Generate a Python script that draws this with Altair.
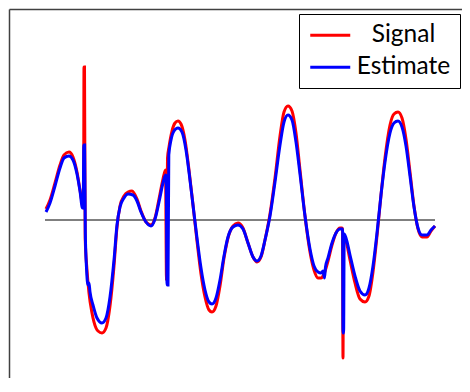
import altair as alt
import pandas as pd

# Sample index and amplitude
sig_n = [1, 5, 10, 15, 19, 24, 28, 32, 35, 38, 38.6, 39, 39.5, 40.2, 42, 44, 47, 51, 53, 57, 61, 65, 69, 72,
         75, 79, 83, 87, 92, 96, 101, 106, 110, 114, 118, 120.5, 121.5, 122.5, 124, 127, 130, 133, 136, 140,
         144, 148, 152, 156, 160, 164, 167, 171, 175, 179, 183, 188, 193, 198, 203, 208, 212, 216, 220, 225,
         230, 235, 239, 243, 247, 251, 255, 260, 265, 269, 273, 276, 279, 283, 287, 291, 295, 297, 297.5, 298,
         298.5, 301, 305, 310, 315, 320, 324, 328, 332, 336, 340, 345, 349, 353, 357, 361, 365, 369, 373, 377,
         382, 386, 390]
sig_a = [0.11, 0.20, 0.37, 0.55, 0.65, 0.68, 0.63, 0.48, 0.30, 0.13, 0.12, 1.53, 1.53, -0.18, -0.50, -0.73,
         -0.93, -1.08, -1.11, -1.13, -1.08, -0.86, -0.46, -0.07, 0.14, 0.24, 0.28, 0.29, 0.21, 0.09, -0.02,
         -0.05, 0.02, 0.21, 0.41, 0.50, -0.60, 0.62, 0.73, 0.89, 0.97, 0.99, 0.96, 0.80, 0.50, 0.15, -0.21,
         -0.54, -0.77, -0.90, -0.92, -0.86, -0.66, -0.38, -0.18, -0.06, -0.03, -0.08, -0.23, -0.37, -0.42,
         -0.37, -0.20, 0.06, 0.42, 0.84, 1.08, 1.14, 1.09, 0.87, 0.50, 0.04, -0.32, -0.50, -0.58, -0.58,
         -0.54, -0.41, -0.25, -0.13, -0.08, -0.08, -0.09, -1.38, -0.16, -0.21, -0.40, -0.63, -0.79, -0.82,
         -0.76, -0.52, -0.16, 0.25, 0.62, 0.95, 1.06, 1.08, 1.02, 0.81, 0.48, 0.14, -0.09, -0.17, -0.17,
         -0.11, -0.06]

est_n = [1, 5, 10, 15, 19, 24, 28, 32, 35, 37.5, 38.2, 38.8, 39.6, 40.3, 41.5, 43, 44, 45, 48, 52, 57, 61,
         65, 69, 72, 75, 79, 83, 88, 92, 96, 101, 106, 110, 114, 118, 120.5, 121.2, 122, 123, 123.8, 126, 129,
         133, 137, 141, 144, 148, 152, 156, 160, 164, 167, 171, 175, 179, 183, 188, 193, 198, 203, 208, 212,
         216, 220, 225, 230, 235, 239, 243, 247, 251, 255, 260, 265, 269, 273, 276, 278, 279.5, 280.5, 283,
         287, 291, 295, 297, 297.6, 298, 298.6, 299.2, 301, 305, 310, 315, 320, 324, 328, 332, 336, 340, 345,
         349, 353, 357, 361, 365, 369, 373, 377, 382, 386, 390]
est_a = [0.08, 0.17, 0.34, 0.52, 0.62, 0.64, 0.60, 0.46, 0.29, 0.12, 0.12, 0.75, 0.75, -0.12, -0.48, -0.65,
         -0.63, -0.72, -0.85, -0.98, -1.03, -0.98, -0.77, -0.40, -0.05, 0.13, 0.22, 0.26, 0.25, 0.19, 0.08,
         -0.02, -0.06, 0.01, 0.18, 0.37, 0.45, 0.44, -0.65, -0.65, 0.65, 0.80, 0.89, 0.92, 0.88, 0.70, 0.48,
         0.15, -0.18, -0.48, -0.70, -0.82, -0.84, -0.78, -0.60, -0.36, -0.17, -0.07, -0.05, -0.09, -0.23,
         -0.37, -0.41, -0.36, -0.20, 0.04, 0.38, 0.75, 0.98, 1.05, 1.00, 0.78, 0.46, 0.04, -0.29, -0.46,
         -0.52, -0.53, -0.51, -0.58, -0.47, -0.38, -0.23, -0.13, -0.09, -0.09, -0.09, -1.13, -1.13, -0.14,
         -0.18, -0.35, -0.56, -0.71, -0.75, -0.68, -0.46, -0.13, 0.25, 0.58, 0.87, 0.97, 0.99, 0.93, 0.74,
         0.44, 0.13, -0.08, -0.15, -0.15, -0.10, -0.06]

series_names = ["Signal", "Estimate"]
series_colors = ["#ff0000", "#0000ff"]

df = pd.concat([
    pd.DataFrame({"n": sig_n, "a": sig_a, "series": "Signal"}),
    pd.DataFrame({"n": est_n, "a": est_a, "series": "Estimate"}),
], ignore_index=True)

zero_df = pd.DataFrame({"n": [0], "n2": [390], "a": [0.0]})

xscale = alt.Scale(domain=[-36, 417], nice=False, zero=False)
yscale = alt.Scale(domain=[-1.58, 2.11], nice=False, zero=False)

xaxis = alt.Axis(orient="top", labels=False, ticks=False, grid=False, title=None,
                 domainColor="#404040", domainWidth=1.5)
yaxis = alt.Axis(orient="left", labels=False, ticks=False, grid=False, title=None,
                 domainColor="#404040", domainWidth=1.5)

color = alt.Color("series:N",
                  scale=alt.Scale(domain=series_names, range=series_colors),
                  legend=alt.Legend(title=None, orient="none", legendX=290, legendY=5,
                                    symbolType="M-2,0H2", symbolSize=400, symbolStrokeWidth=3,
                                    symbolOffset=10,
                                    labelFont="Lato", labelFontSize=24.5, labelColor="black",
                                    labelAlign="center", labelOffset=61,
                                    padding=9, rowPadding=7,
                                    strokeColor="black", fillColor="white", cornerRadius=0))

zero = alt.Chart(zero_df).mark_rule(color="black", strokeWidth=1).encode(
    x=alt.X("n:Q", scale=xscale, axis=xaxis),
    x2="n2:Q",
    y=alt.Y("a:Q", scale=yscale, axis=yaxis),
)

sig = alt.Chart(df).transform_filter(alt.datum.series == "Signal").mark_line(
    strokeWidth=3, interpolate="monotone").encode(
    x=alt.X("n:Q", scale=xscale, axis=xaxis),
    y=alt.Y("a:Q", scale=yscale, axis=yaxis),
    color=color,
)

est = alt.Chart(df).transform_filter(alt.datum.series == "Estimate").mark_line(
    strokeWidth=3, interpolate="monotone").encode(
    x=alt.X("n:Q", scale=xscale, axis=xaxis),
    y=alt.Y("a:Q", scale=yscale, axis=yaxis),
    color=color,
)

chart = alt.layer(zero, sig, est).properties(
    width=453, height=369,
    padding={"left": 1, "top": 1, "right": 0, "bottom": 0},
    autosize=alt.AutoSizeParams(type="none"),
).configure_view(stroke=None)

chart.save("out.html", embed_options={"renderer": "svg", "actions": False})
